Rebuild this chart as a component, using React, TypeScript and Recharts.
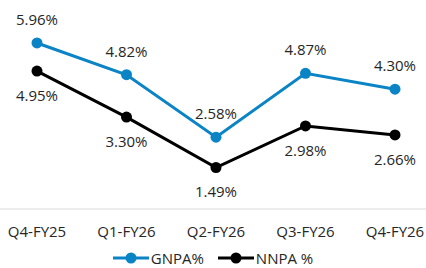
import React from 'react';
import { LineChart, Line, XAxis, YAxis, LabelList, Legend } from 'recharts';

const categories = ['Q4-FY25', 'Q1-FY26', 'Q2-FY26', 'Q3-FY26', 'Q4-FY26'];
const gnpa = [5.96, 4.82, 2.58, 4.87, 4.3];
const nnpa = [4.95, 3.3, 1.49, 2.98, 2.66];

const data = categories.map((c, i) => ({ name: c, gnpa: gnpa[i], nnpa: nnpa[i] }));

const BLUE = '#0b84c6';
const TEXT = '#262626';
const FONT = '"Open Sans", sans-serif';
const FS = 15;

const fmt = (v: any) => `${Number(v).toFixed(2)}%`;

const LegendContent = () => {
  const items = [
    { label: 'GNPA%', color: BLUE },
    { label: 'NNPA %', color: '#000' },
  ];
  return (
    <div style={{ display: 'flex', justifyContent: 'center', fontFamily: FONT, fontSize: FS, color: TEXT, lineHeight: '18px' }}>
      {items.map((it, i) => (
        <div key={i} style={{ display: 'flex', alignItems: 'center', marginLeft: i ? 14 : 0 }}>
          <svg width={36} height={12} style={{ marginRight: 2 }}>
            <line x1={0} y1={6} x2={36} y2={6} stroke={it.color} strokeWidth={3} />
            <circle cx={18} cy={6} r={5.5} fill={it.color} />
          </svg>
          <span>{it.label}</span>
        </div>
      ))}
    </div>
  );
};

export default function App() {
  return (
    <div style={{ position: 'absolute', left: 0, top: 0, width: 426, height: 268, background: '#fff' }}>
      <LineChart width={426} height={268} data={data} margin={{ top: 14, right: 0, bottom: 29, left: 0 }}>
        <YAxis hide domain={[0, 7]} />
        <XAxis
          dataKey="name"
          padding={{ left: 37, right: 31 }}
          axisLine={{ stroke: '#d9d9d9', strokeWidth: 1 }}
          tickLine={false}
          height={30}
          tick={{ fill: TEXT, fontSize: FS, fontFamily: FONT }}
          tickMargin={11}
        />
        <Legend
          verticalAlign="middle"
          align="center"
          layout="horizontal"
          wrapperStyle={{ top: 249, left: 0, width: 426 }}
          content={<LegendContent />}
        />
        <Line
          dataKey="gnpa"
          stroke={BLUE}
          strokeWidth={3}
          dot={{ r: 5.5, fill: BLUE, stroke: BLUE, strokeWidth: 0 }}
          activeDot={false}
          isAnimationActive={false}
        >
          <LabelList dataKey="gnpa" position="top" offset={18} formatter={fmt} style={{ fill: TEXT, fontSize: FS, fontFamily: FONT }} />
        </Line>
        <Line
          dataKey="nnpa"
          stroke="#000"
          strokeWidth={3}
          dot={{ r: 5.5, fill: '#000', stroke: '#000', strokeWidth: 0 }}
          activeDot={false}
          isAnimationActive={false}
        >
          <LabelList dataKey="nnpa" position="bottom" offset={19} formatter={fmt} style={{ fill: TEXT, fontSize: FS, fontFamily: FONT }} />
        </Line>
      </LineChart>
    </div>
  );
}
